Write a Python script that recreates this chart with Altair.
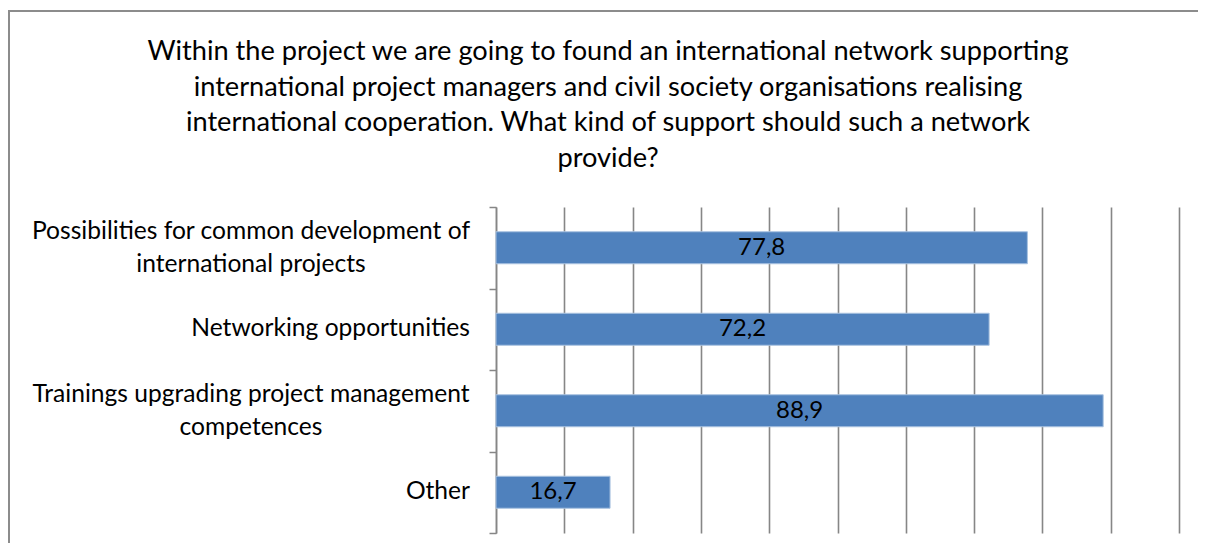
import altair as alt
import pandas as pd

categories = [
    "Possibilities for common development of\ninternational projects",
    "Networking opportunities",
    "Trainings upgrading project management\ncompetences",
    "Other",
]
values = [77.8, 72.2, 88.9, 16.7]
x_ticks = [0, 10, 20, 30, 40, 50, 60, 70, 80, 90, 100]
title_lines = [
    "Within the project we are going to found an international network supporting",
    "international project managers and civil society organisations realising",
    "international cooperation. What kind of support should such a network",
    "provide?",
]

df = pd.DataFrame({"category": categories, "value": values})

FONT = "Lato"
GRAY = "#868686"

y_enc = alt.Y(
    "category:N",
    sort=categories,
    scale=alt.Scale(paddingInner=0, paddingOuter=0),
    axis=alt.Axis(
        title=None,
        tickBand="extent",
        labels=False,
        domainColor=GRAY,
        domainWidth=1.5,
        tickColor=GRAY,
        tickWidth=1.5,
        tickSize=7,
        grid=False,
    ),
)

x_scale = alt.Scale(domain=[0, 100], nice=False)

bars = alt.Chart(df).mark_bar(
    color="#4F81BD", stroke="#A9C2E0", strokeWidth=1, height=32
).encode(
    x=alt.X(
        "value:Q",
        scale=x_scale,
        axis=alt.Axis(
            title=None,
            values=x_ticks,
            labels=False,
            ticks=False,
            domain=False,
            grid=True,
            gridColor=GRAY,
            gridWidth=1.6,
        ),
    ),
    y=y_enc,
)

value_labels = alt.Chart(df).transform_calculate(
    mid="datum.value / 2",
    label="replace(format(datum.value, '.1f'), '.', ',')",
).mark_text(font=FONT, fontSize=24, color="black").encode(
    x=alt.X("mid:Q", scale=x_scale),
    y=alt.Y("category:N", sort=categories),
    text="label:N",
)

cat_single = alt.Chart(df).transform_filter(
    "indexof(datum.category, '\\n') < 0"
).mark_text(
    font=FONT, fontSize=24.6, color="black", align="right", baseline="middle"
).encode(
    x=alt.value(-26),
    y=alt.Y("category:N", sort=categories),
    text="category:N",
)

cat_multi = alt.Chart(df).transform_filter(
    "indexof(datum.category, '\\n') >= 0"
).mark_text(
    font=FONT, fontSize=24.6, color="black", align="center", baseline="middle",
    lineBreak="\n", lineHeight=33, dy=-16,
).encode(
    x=alt.value(-245),
    y=alt.Y("category:N", sort=categories),
    text="category:N",
)

title_text = alt.Chart(alt.Data(values=[{"t": "\n".join(title_lines)}])).mark_text(
    font=FONT, fontSize=27.2, color="black", align="center", baseline="middle",
    lineBreak="\n", lineHeight=35.5,
).encode(
    x=alt.value(112),
    y=alt.value(-155),
    text="t:N",
)

border_data = alt.Data(values=[{"b": 1}])
border_left = alt.Chart(border_data).mark_rule(color="#8c8c8c", strokeWidth=2).encode(
    x=alt.value(-487), y=alt.value(-196), y2=alt.value(340)
)
border_top = alt.Chart(border_data).mark_rule(color="#8c8c8c", strokeWidth=2).encode(
    x=alt.value(-488), x2=alt.value(720), y=alt.value(-196)
)

chart = alt.layer(
    bars, value_labels, cat_single, cat_multi, title_text, border_left, border_top
).properties(
    width=683,
    height=326,
    autosize=alt.AutoSizeParams(type="none"),
    padding={"left": 488, "top": 199, "right": 19, "bottom": 10},
).configure_view(stroke=None)

chart.save("out.html", embed_options={"renderer": "svg", "actions": False})
